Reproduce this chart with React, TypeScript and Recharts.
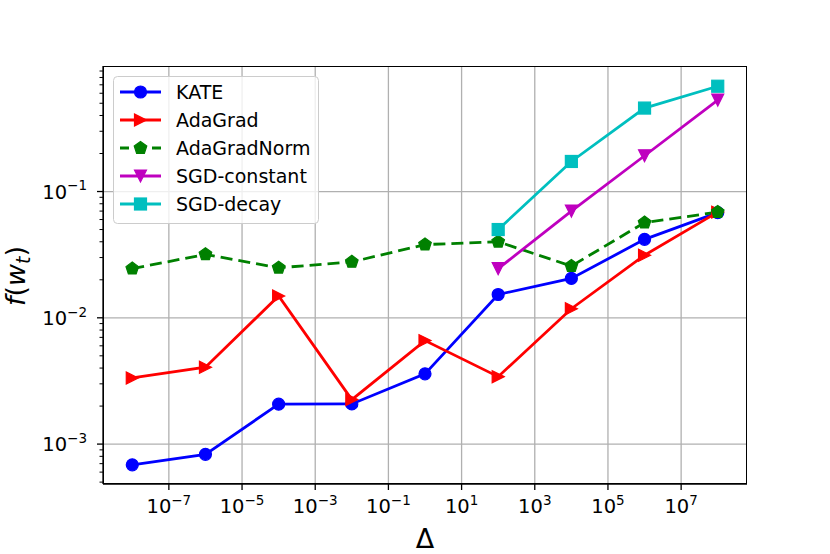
import React from 'react';
import { LineChart, Line, XAxis, YAxis, CartesianGrid, Legend, Label } from 'recharts';

const deltas = [1e-8, 1e-6, 1e-4, 1e-2, 1, 1e2, 1e4, 1e6, 1e8];
const kate = [6.85e-4, 8.3e-4, 2.07e-3, 2.08e-3, 3.6e-3, 0.0153, 0.0205, 0.0418, 0.068];
const adagrad = [3.34e-3, 4.06e-3, 0.0149, 2.25e-3, 6.6e-3, 3.42e-3, 0.0118, 0.0313, 0.0687];
const adagradNorm = [0.0245, 0.0318, 0.0249, 0.0277, 0.038, 0.04, 0.0257, 0.0567, 0.0687];
const sgdDeltas = [1e2, 1e4, 1e6, 1e8];
const sgdConstant = [0.0245, 0.07, 0.192, 0.53];
const sgdDecay = [0.05, 0.173, 0.458, 0.682];

const xTicks = [1e-7, 1e-5, 1e-3, 1e-1, 1e1, 1e3, 1e5, 1e7];
const yMajor = [1e-3, 1e-2, 1e-1];

const X_DOMAIN = [Math.pow(10, -8.8), Math.pow(10, 8.8)];
const Y_DOMAIN = [Math.pow(10, -3.316), Math.pow(10, -0.006)];

// minor ticks 2..9 x 10^k inside the y range
const yMinor: number[] = [];
for (let e = -4; e <= -1; e++) {
  for (let m = 2; m <= 9; m++) {
    const v = m * Math.pow(10, e);
    if (v > Y_DOMAIN[0] && v < Y_DOMAIN[1]) yMinor.push(v);
  }
}
const yTicks = [...yMajor, ...yMinor].sort((a, b) => a - b);

const toRows = (xs: number[], ys: number[]) => xs.map((x, i) => ({ x, y: ys[i] }));

const FONT = 'DejaVu Sans';
const DASH = '12 6';

type Shape = 'circle' | 'right' | 'pentagon' | 'down' | 'square';

const series: { name: string; color: string; shape: Shape; dashed?: boolean; xs: number[]; ys: number[] }[] = [
  { name: 'KATE', color: '#0000ff', shape: 'circle', xs: deltas, ys: kate },
  { name: 'AdaGrad', color: '#ff0000', shape: 'right', xs: deltas, ys: adagrad },
  { name: 'AdaGradNorm', color: '#008000', shape: 'pentagon', dashed: true, xs: deltas, ys: adagradNorm },
  { name: 'SGD-constant', color: '#bf00bf', shape: 'down', xs: sgdDeltas, ys: sgdConstant },
  { name: 'SGD-decay', color: '#00bfbf', shape: 'square', xs: sgdDeltas, ys: sgdDecay },
];

const Marker = ({ cx, cy, shape, color }: { cx: number; cy: number; shape: Shape; color: string }) => {
  const s = 6;
  const common = { fill: color, stroke: color, strokeWidth: 1.2 };
  if (shape === 'circle') return <circle cx={cx} cy={cy} r={s} {...common} />;
  if (shape === 'square') return <rect x={cx - s} y={cy - s} width={2 * s} height={2 * s} {...common} />;
  if (shape === 'right')
    return <polygon points={`${cx + s},${cy} ${cx - s},${cy - s} ${cx - s},${cy + s}`} {...common} />;
  if (shape === 'down')
    return <polygon points={`${cx},${cy + s} ${cx - s},${cy - s} ${cx + s},${cy - s}`} {...common} />;
  const pts = [0, 1, 2, 3, 4]
    .map((k) => {
      const a = -Math.PI / 2 + (k * 2 * Math.PI) / 5;
      return `${cx + s * 1.1 * Math.cos(a)},${cy + s * 1.1 * Math.sin(a)}`;
    })
    .join(' ');
  return <polygon points={pts} {...common} />;
};

const Pow10 = ({ v, x, y, anchor }: { v: number; x: number; y: number; anchor: 'middle' | 'end' }) => {
  const e = Math.round(Math.log10(v));
  return (
    <text x={x} y={y} textAnchor={anchor} fontFamily={FONT} fontSize={19.5} fill="#000">
      10
      <tspan fontSize={13.5} dy={-8.5}>
        {e < 0 ? `\u2212${-e}` : `${e}`}
      </tspan>
    </text>
  );
};

const XTick = (props: any) => {
  const { x, y, payload } = props;
  return (
    <g>
      <line x1={x} x2={x} y1={y} y2={y + 6} stroke="#000" strokeWidth={1.3} />
      <Pow10 v={payload.value} x={x} y={y + 29} anchor="middle" />
    </g>
  );
};

const YTick = (props: any) => {
  const { x, y, payload } = props;
  const major = yMajor.some((m) => Math.abs(m - payload.value) / m < 1e-6);
  return (
    <g>
      <line x1={x - (major ? 6 : 3.5)} x2={x} y1={y} y2={y} stroke="#000" strokeWidth={major ? 1.3 : 1} />
      {major && <Pow10 v={payload.value} x={x - 16} y={y + 7.3} anchor="end" />}
    </g>
  );
};

const LegendBox = () => (
  <svg width={207} height={149} style={{ display: 'block' }}>
    <rect x={0.5} y={0.5} width={205} height={147} rx={4} fill="rgba(255,255,255,0.8)" stroke="#cccccc" />
    {series.map((s, i) => {
      const cy = 16 + i * 28;
      return (
        <g key={s.name}>
          <line x1={7} x2={48} y1={cy} y2={cy} stroke={s.color} strokeWidth={2.8} strokeDasharray={s.dashed ? '9 7' : undefined} />
          <Marker cx={27.5} cy={cy} shape={s.shape} color={s.color} />
          <text x={63} y={cy + 7} fontFamily={FONT} fontSize={19} fill="#000">
            {s.name}
          </text>
        </g>
      );
    })}
  </svg>
);

export default function App() {
  return (
    <div style={{ position: 'absolute', left: 0, top: 0, width: 830, height: 554, background: '#fff' }}>
      <LineChart width={830} height={554} margin={{ top: 66, right: 83, bottom: 0, left: 0 }}>
        <CartesianGrid stroke="#b0b0b0" strokeWidth={1.3} horizontalValues={yMajor} verticalValues={xTicks} />
        <XAxis
          xAxisId={0}
          dataKey="x"
          type="number"
          scale="log"
          domain={X_DOMAIN}
          allowDataOverflow
          ticks={xTicks}
          interval={0}
          tickSize={0}
          tickMargin={0}
          tickLine={false}
          tick={<XTick />}
          height={70}
          axisLine={{ stroke: '#000', strokeWidth: 1.3 }}
        >
          <Label
            content={() => (
              <text x={425} y={548} textAnchor="middle" fontFamily={FONT} fontSize={27} fill="#000">
                Δ
              </text>
            )}
          />
        </XAxis>
        <YAxis
          yAxisId={0}
          type="number"
          scale="log"
          domain={Y_DOMAIN}
          allowDataOverflow
          ticks={yTicks}
          interval={0}
          tickSize={0}
          tickMargin={0}
          tickLine={false}
          tick={<YTick />}
          width={103}
          axisLine={{ stroke: '#000', strokeWidth: 1.3 }}
        >
          <Label
            content={() => (
              <text
                x={25}
                y={276}
                transform="rotate(-90 25 276)"
                textAnchor="middle"
                fontFamily={FONT}
                fontSize={27}
                fill="#000"
              >
                <tspan fontStyle="italic">f</tspan>
                <tspan>(</tspan>
                <tspan fontStyle="italic">w</tspan>
                <tspan fontStyle="italic" fontSize={19} dy={5}>
                  t
                </tspan>
                <tspan dy={-5}>)</tspan>
              </text>
            )}
          />
        </YAxis>
        {series.map((s) => (
          <Line
            key={s.name}
            name={s.name}
            data={toRows(s.xs, s.ys)}
            dataKey="y"
            xAxisId={0}
            yAxisId={0}
            stroke={s.color}
            strokeWidth={2.8}
            strokeDasharray={s.dashed ? DASH : undefined}
            isAnimationActive={false}
            dot={(p: any) => <Marker key={`${s.name}-${p.index}`} cx={p.cx} cy={p.cy} shape={s.shape} color={s.color} />}
            activeDot={false}
          />
        ))}
        <Legend
          layout="vertical"
          align="center"
          verticalAlign="middle"
          wrapperStyle={{ left: 113, top: 76, width: 207, height: 149 }}
          content={() => <LegendBox />}
        />
      </LineChart>
      {/* axes frame: top and right spines */}
      <div
        style={{
          position: 'absolute',
          left: 102.5,
          top: 65.5,
          width: 644,
          height: 418,
          border: '1.3px solid #000',
          boxSizing: 'border-box',
          pointerEvents: 'none',
        }}
      />
    </div>
  );
}
